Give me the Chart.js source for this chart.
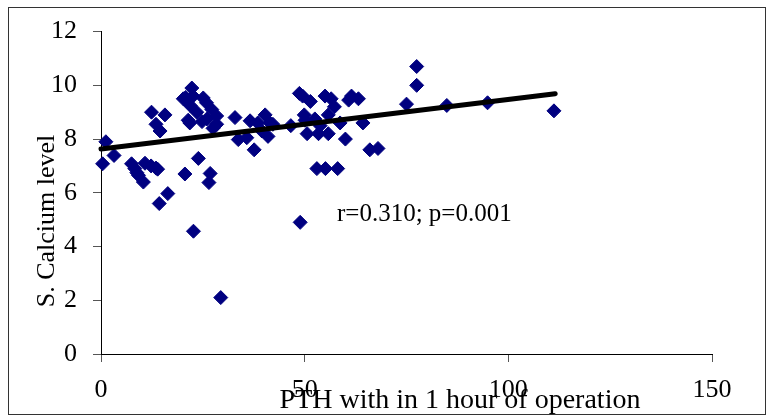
<!DOCTYPE html>
<html>
<head>
<meta charset="utf-8">
<script src="https://cdn.jsdelivr.net/npm/chart.js@4/dist/chart.umd.min.js"></script>
<style>
    html, body { margin: 0; padding: 0; background: #fff; }
    #wrap { width: 767px; height: 417px; }
</style>
</head>
<body>
<div id="wrap"><canvas id="chart"></canvas></div>
<script>
// ============================================
// DATA
// ============================================

// PTH within 1 hour of operation (x)
const pthValues = [
    0.4, 1.2, 3.2, 7.5, 8.3, 8.8, 9.2, 10.4, 10.8, 12.3, 13.5, 13.9, 12.4, 15.7, 13.5, 14.5, 16.4, 14.3,
    20.2, 20.8, 22.3, 21.9, 21.4, 21.8, 23.5, 22.6, 25.1, 25.9, 27.2, 28.4, 24.8, 26.0, 28.4, 27.5,
    23.9, 22.7, 20.6, 26.8, 26.5, 29.4, 32.9, 33.7,
    35.8, 36.6, 37.6, 38.5, 40.3, 41.0, 41.5, 42.2, 39.5, 46.6, 48.7, 48.9,
    49.5, 49.9, 50.1, 50.6, 51.4, 52.5, 53.0, 53.4, 53.8, 55.0, 55.1, 55.8, 55.8, 56.5, 57.3, 58.1,
    58.7, 60.0, 60.8, 61.5, 63.2, 64.3, 66.0, 68.0,
    75.0, 77.5, 77.5, 84.9, 94.9, 111.2
];

// S. Calcium level (y)
const calciumValues = [
    7.08, 7.9, 7.39, 7.08, 6.9, 6.75, 6.65, 6.4, 7.1, 7.0, 6.92, 6.88, 9.0, 8.9, 8.55, 8.3, 5.97, 5.6,
    9.5, 9.55, 9.9, 9.25, 8.7, 8.6, 9.0, 9.6, 9.53, 9.35, 9.1, 8.86, 8.65, 8.75, 8.55, 8.4,
    7.28, 4.57, 6.7, 6.72, 6.38, 2.1, 8.8, 7.98,
    8.05, 8.68, 7.6, 8.6, 8.9, 8.1, 8.6, 8.55, 8.3, 8.5, 9.7, 4.9,
    9.6, 8.9, 8.7, 8.2, 9.4, 8.75, 6.9, 8.2, 8.5, 9.6, 6.9, 8.2, 8.9, 9.5, 9.2, 6.9,
    8.6, 8.0, 9.45, 9.6, 9.5, 8.6, 7.6, 7.65,
    9.3, 10.7, 10.0, 9.25, 9.35, 9.05
];

// Linear trend line, end points
const trendX = [0, 111.5];
const trendY = [7.63, 9.69];

const xTicks = [0, 50, 100, 150];
const yTicks = [0, 2, 4, 6, 8, 10, 12];

const xTitle = 'PTH with in 1 hour of operation';
const yTitle = 'S. Calcium level';
const statsNote = 'r=0.310; p=0.001';

// ============================================
// TEXT + FRAME PLUGIN
// ============================================

const SERIF = '"Liberation Serif", "Times New Roman", serif';

const decorPlugin = {
    id: 'decor',
    afterDraw(chart) {
        const ctx = chart.ctx;
        ctx.save();

        // outer frame
        ctx.strokeStyle = '#333';
        ctx.lineWidth = 1;
        ctx.strokeRect(8.5, 7.5, 757, 407);

        ctx.fillStyle = '#000';

        // correlation note
        ctx.font = '25px ' + SERIF;
        ctx.textAlign = 'left';
        ctx.textBaseline = 'alphabetic';
        ctx.fillText(statsNote, 337, 221);

        // x title (sits over the tick labels, like the original)
        ctx.font = '28px ' + SERIF;
        ctx.textAlign = 'center';
        ctx.fillText(xTitle, 460, 408);

        // y title
        ctx.translate(54, 221);
        ctx.rotate(-Math.PI / 2);
        ctx.font = '26px ' + SERIF;
        ctx.fillText(yTitle, 0, 0);

        ctx.restore();
    }
};

// ============================================
// CHART
// ============================================

function buildPoints(xs, ys) {
    return xs.map((x, i) => ({ x: x, y: ys[i] }));
}

function initChart() {
    const ctx = document.getElementById('chart').getContext('2d');

    new Chart(ctx, {
        type: 'scatter',
        data: {
            datasets: [
                {
                    label: 'Trend',
                    data: buildPoints(trendX, trendY),
                    showLine: true,
                    borderColor: '#000',
                    borderWidth: 5,
                    pointRadius: 0,
                    borderCapStyle: 'round',
                    clip: false,
                    order: 0
                },
                {
                    label: 'S. Calcium',
                    data: buildPoints(pthValues, calciumValues),
                    pointStyle: 'rectRot',
                    pointRadius: 7,
                    pointHoverRadius: 7,
                    backgroundColor: '#000080',
                    borderColor: '#000080',
                    borderWidth: 1,
                    clip: false,
                    order: 1
                }
            ]
        },
        options: {
            responsive: true,
            maintainAspectRatio: false,
            animation: false,
            layout: {
                padding: { left: 0, top: 28, right: 55, bottom: 0 }
            },
            plugins: {
                legend: { display: false },
                tooltip: { enabled: false }
            },
            scales: {
                x: {
                    type: 'linear',
                    min: 0,
                    max: 150,
                    afterBuildTicks: scale => { scale.ticks = xTicks.map(v => ({ value: v })); },
                    afterFit: scale => { scale.height = 63; },
                    grid: {
                        drawOnChartArea: false,
                        drawTicks: true,
                        tickLength: 8,
                        color: '#555'
                    },
                    border: { display: true, color: '#000', width: 1 },
                    ticks: {
                        color: '#000',
                        padding: 13,
                        maxRotation: 0,
                        font: { family: SERIF, size: 26 }
                    }
                },
                y: {
                    type: 'linear',
                    min: 0,
                    max: 12,
                    afterBuildTicks: scale => { scale.ticks = yTicks.map(v => ({ value: v })); },
                    afterFit: scale => { scale.width = 101; },
                    grid: {
                        drawOnChartArea: false,
                        drawTicks: true,
                        tickLength: 8,
                        color: '#555'
                    },
                    border: { display: true, color: '#000', width: 1 },
                    ticks: {
                        color: '#000',
                        padding: 16,
                        font: { family: SERIF, size: 26 }
                    }
                }
            }
        },
        plugins: [decorPlugin]
    });
}

initChart();
</script>
</body>
</html>
